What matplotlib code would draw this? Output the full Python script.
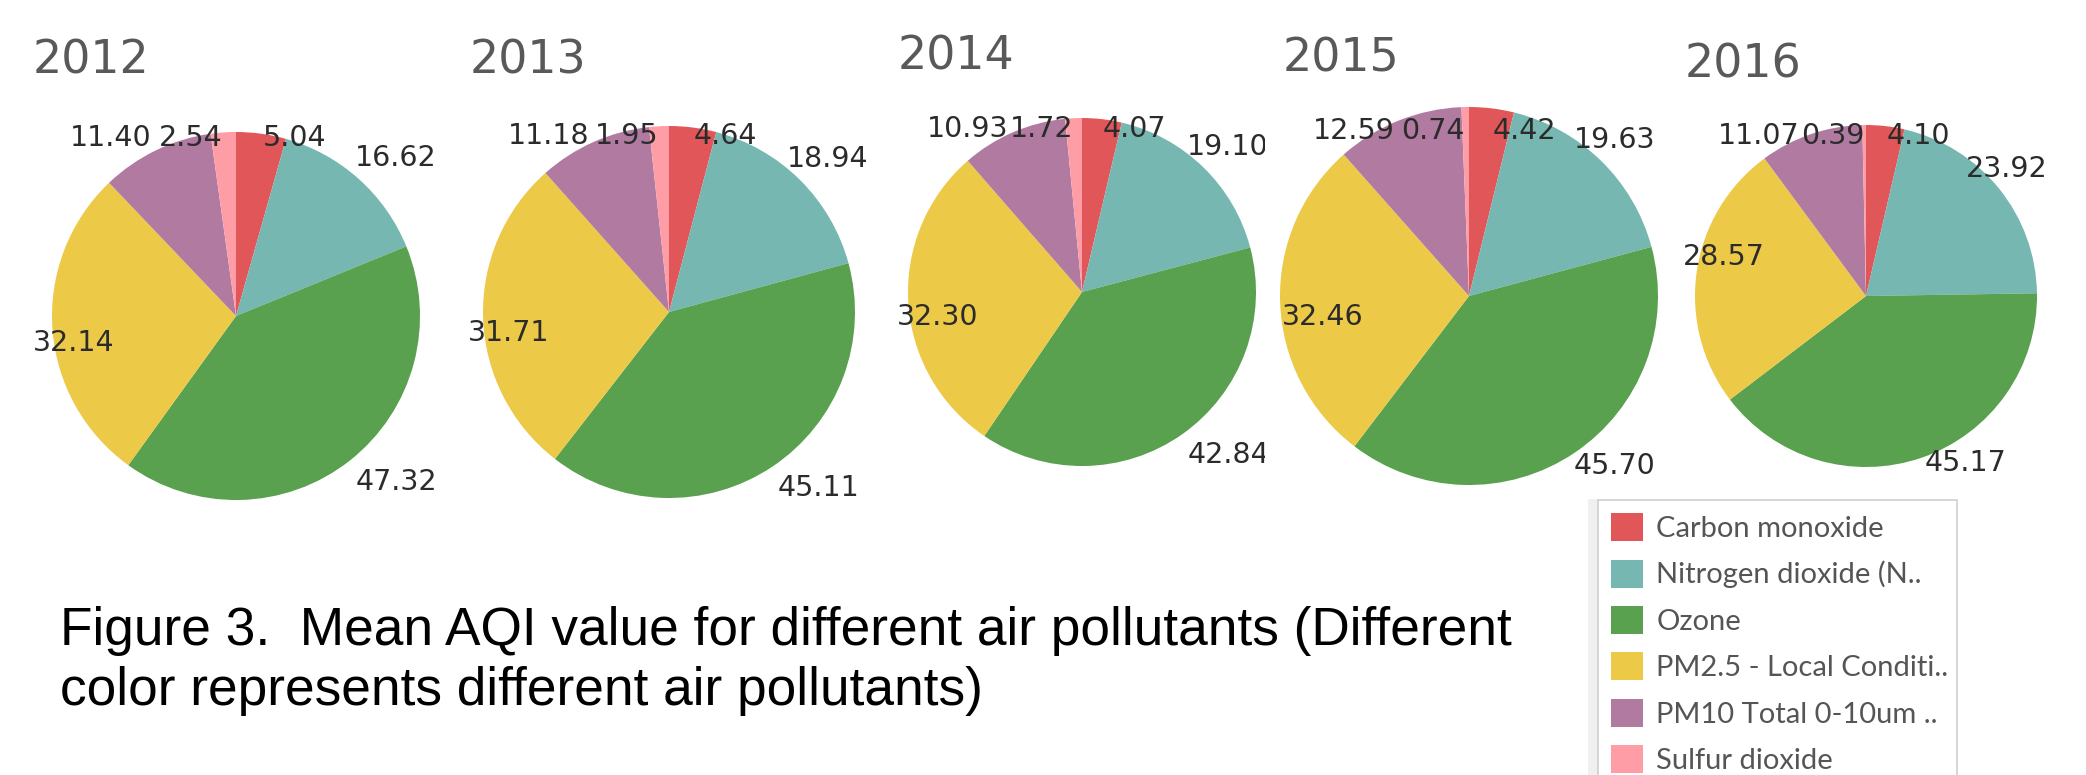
import numpy as np
import matplotlib
matplotlib.use("Agg")
import matplotlib.pyplot as plt
from matplotlib.patches import Rectangle
from matplotlib.transforms import Bbox

W, H = 2086, 775

# data: mean AQI per pollutant, one value per year
years = ["2012", "2013", "2014", "2015", "2016"]
pollutants = ["Carbon monoxide", "Nitrogen dioxide (N..", "Ozone",
              "PM2.5 - Local Conditi..", "PM10 Total 0-10um ..", "Sulfur dioxide"]
co = [5.04, 4.64, 4.07, 4.42, 4.10]
no2 = [16.62, 18.94, 19.10, 19.63, 23.92]
ozone = [47.32, 45.11, 42.84, 45.70, 45.17]
pm25 = [32.14, 31.71, 32.30, 32.46, 28.57]
pm10 = [11.40, 11.18, 10.93, 12.59, 11.07]
so2 = [2.54, 1.95, 1.72, 0.74, 0.39]
colors = ["#E15759", "#76B7B2", "#59A14F", "#EDC948", "#B07AA1", "#FF9DA7"]

caption1 = "Figure 3.  Mean AQI value for different air pollutants (Different"
caption2 = "color represents different air pollutants)"

# layout, image pixels measured from the top
centers = [(236, 316), (669, 312), (1082, 292), (1469, 296), (1866, 296)]
radii = [184, 186, 174, 189, 171]
title_pos = [(33, 73), (470, 73), (898, 70), (1283, 72), (1685, 77)]
# label area of each pane: left, right, top, bottom
panes = [(33, 437, 124, 517), (468, 868, 122, 517), (897, 1269, 115, 479),
         (1282, 1655, 117, 480), (1683, 2048, 122, 477)]
clip_right = [455, 885, 1265, 1672, 2086]

fig = plt.figure(figsize=(W / 100, H / 100), dpi=100)
ax = fig.add_axes([0, 0, 1, 1])

series = np.array([co, no2, ozone, pm25, pm10, so2])
pie_wedges = []
pie_labels = []
for i, year in enumerate(years):
    vals = series[:, i]
    cx, cy = centers[i]
    r = radii[i]
    wedges, _ = ax.pie(vals, colors=colors, startangle=90, counterclock=False,
                       center=(cx, H - cy), radius=r,
                       wedgeprops=dict(linewidth=0))
    pie_wedges.append(wedges)
    labels = []
    for w, v in zip(wedges, vals):
        ang = np.deg2rad((w.theta1 + w.theta2) / 2)
        dx, dy = np.cos(ang), np.sin(ang)
        t = ax.text(cx + 1.05 * r * dx, H - cy + 1.05 * r * dy, f"{v:.2f}",
                    ha="left" if dx >= 0 else "right",
                    va="bottom" if dy >= 0 else "top",
                    fontsize=20.5, color="#2b2b2b", family="DejaVu Sans")
        labels.append(t)
    pie_labels.append(labels)
    tx, ty = title_pos[i]
    ax.text(tx, H - ty, year, fontsize=33, color="#595959", ha="left",
            va="baseline", family="DejaVu Sans")

ax.set_xlim(0, W)
ax.set_ylim(0, H)
ax.set_aspect("auto")
ax.axis("off")

# keep labels inside their pane (like tableau does)
fig.canvas.draw()
renderer = fig.canvas.get_renderer()
for i, labels in enumerate(pie_labels):
    left, right, top, bottom = panes[i]
    for t in labels:
        bb = t.get_window_extent(renderer)
        x, y = t.get_position()
        sx = sy = 0
        if bb.x0 < left:
            sx = left - bb.x0
        elif bb.x1 > right:
            sx = right - bb.x1
        if bb.y1 > H - top:
            sy = (H - top) - bb.y1
        elif bb.y0 < H - bottom:
            sy = (H - bottom) - bb.y0
        t.set_position((x + sx, y + sy))
    # push overlapping neighbours apart, starting from the top of the pie
    for order, sign in (([5, 4, 3], -1), ([0, 1, 2], 1)):
        prev = None
        for k in order:
            t = labels[k]
            bb = t.get_window_extent(renderer)
            if prev is not None and bb.overlaps(prev):
                x, y = t.get_position()
                if sign < 0:
                    t.set_position((x - (bb.x1 - prev.x0) - 1, y))
                else:
                    t.set_position((x + (prev.x1 - bb.x0) + 1, y))
                bb = t.get_window_extent(renderer)
            prev = bb
    clip = Bbox.from_extents(0, 0, clip_right[i], H)
    for t in labels:
        t.set_clip_box(clip)
        t.set_clip_on(True)

# caption
ax.text(60, H - 645, caption1, fontsize=38.3, family="Liberation Sans",
        color="black", ha="left", va="baseline")
ax.text(60, H - 705, caption2, fontsize=38.3, family="Liberation Sans",
        color="black", ha="left", va="baseline")

# legend card
ax.add_patch(Rectangle((1588, 0), 10, H - 499, facecolor="#f0f0f0",
                       edgecolor="none", zorder=0))
leg = ax.legend(pie_wedges[0], pollutants, loc="upper left",
                bbox_to_anchor=(1598, H - 500, 359, 0),
                bbox_transform=ax.transData, mode="expand",
                prop=dict(family="Lato", size=21), labelcolor="#555555",
                frameon=True, fancybox=False, framealpha=1,
                edgecolor="#d0d0d0", borderaxespad=0, borderpad=0.45,
                handlelength=1.1, handleheight=1.1, handletextpad=0.45,
                labelspacing=0.6)
leg.get_frame().set_linewidth(1.2)

fig.savefig("out.png", dpi=100, facecolor="white")
